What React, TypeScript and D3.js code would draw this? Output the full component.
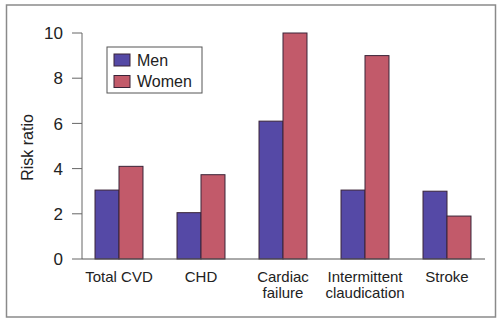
import React from "react";
import * as d3 from "d3";

const categories: string[][] = [
  ["Total CVD"],
  ["CHD"],
  ["Cardiac", "failure"],
  ["Intermittent", "claudication"],
  ["Stroke"],
];
const seriesNames = ["Men", "Women"];
const menValues = [3.05, 2.05, 6.1, 3.05, 3.0];
const womenValues = [4.1, 3.73, 10, 9.0, 1.9];
const yTicks = [0, 2, 4, 6, 8, 10];
const colors = ["#5549a6", "#c25a6a"];

export default function App() {
  const W = 500, H = 321;
  const keys = categories.map((c) => c.join(" "));
  const x0 = d3.scaleBand<string>().domain(keys).range([78, 488]).paddingInner(0.415).paddingOuter(0.2075);
  const x1 = d3.scaleBand<string>().domain(seriesNames).range([0, x0.bandwidth()]);
  const y = d3.scaleLinear().domain([0, 10]).range([259, 33]);
  const font = "'Liberation Sans', Arial, sans-serif";
  const series = [menValues, womenValues];
  return (
    <svg width={W} height={H} style={{ position: "absolute", left: 0, top: 0 }} fontFamily={font}>
      <rect x={0} y={0} width={W} height={H} fill="#fff" />
      <rect x={6.5} y={5} width={489} height={312} fill="none" stroke="#8a8a8a" strokeWidth={1.5} />
      {/* bars */}
      {keys.map((k, i) => (
        <g key={k} transform={`translate(${x0(k)},0)`}>
          {series.map((vals, s) => (
            <rect
              key={s}
              x={x1(seriesNames[s])}
              y={y(vals[i])}
              width={x1.bandwidth()}
              height={y(0) - y(vals[i])}
              fill={colors[s]}
              stroke="#3a2438"
              strokeWidth={1}
            />
          ))}
        </g>
      ))}
      {/* y axis */}
      <line x1={82} x2={82} y1={y(10)} y2={y(0)} stroke="#666" strokeWidth={1} />
      {yTicks.map((t) => (
        <g key={t}>
          <line x1={72} x2={82} y1={y(t)} y2={y(t)} stroke="#666" strokeWidth={1} />
          <text x={63} y={y(t)} dy="0.36em" textAnchor="end" fontSize={17} fill="#222">
            {t}
          </text>
        </g>
      ))}
      {/* x axis */}
      <line x1={82} x2={485} y1={y(0)} y2={y(0)} stroke="#555" strokeWidth={1} />
      {categories.map((lines, i) => (
        <text key={i} x={(x0(keys[i]) as number) + x0.bandwidth() / 2} y={282} textAnchor="middle" fontSize={15} fill="#222">
          {lines.map((l, j) => (
            <tspan key={j} x={(x0(keys[i]) as number) + x0.bandwidth() / 2} dy={j === 0 ? 0 : 16}>
              {l}
            </tspan>
          ))}
        </text>
      ))}
      <text transform="translate(33,147.5) rotate(-90)" textAnchor="middle" fontSize={16} fill="#222">
        Risk ratio
      </text>
      {/* legend */}
      <rect x={107} y={47} width={95} height={46} fill="#fff" stroke="#555" strokeWidth={1} />
      {seriesNames.map((n, i) => (
        <g key={n}>
          <rect x={114} y={54 + i * 21.5} width={16} height={12} fill={colors[i]} stroke="#3a2438" strokeWidth={1} />
          <text x={137} y={60 + i * 21.5} dy="0.36em" fontSize={16} fill="#222">
            {n}
          </text>
        </g>
      ))}
    </svg>
  );
}
